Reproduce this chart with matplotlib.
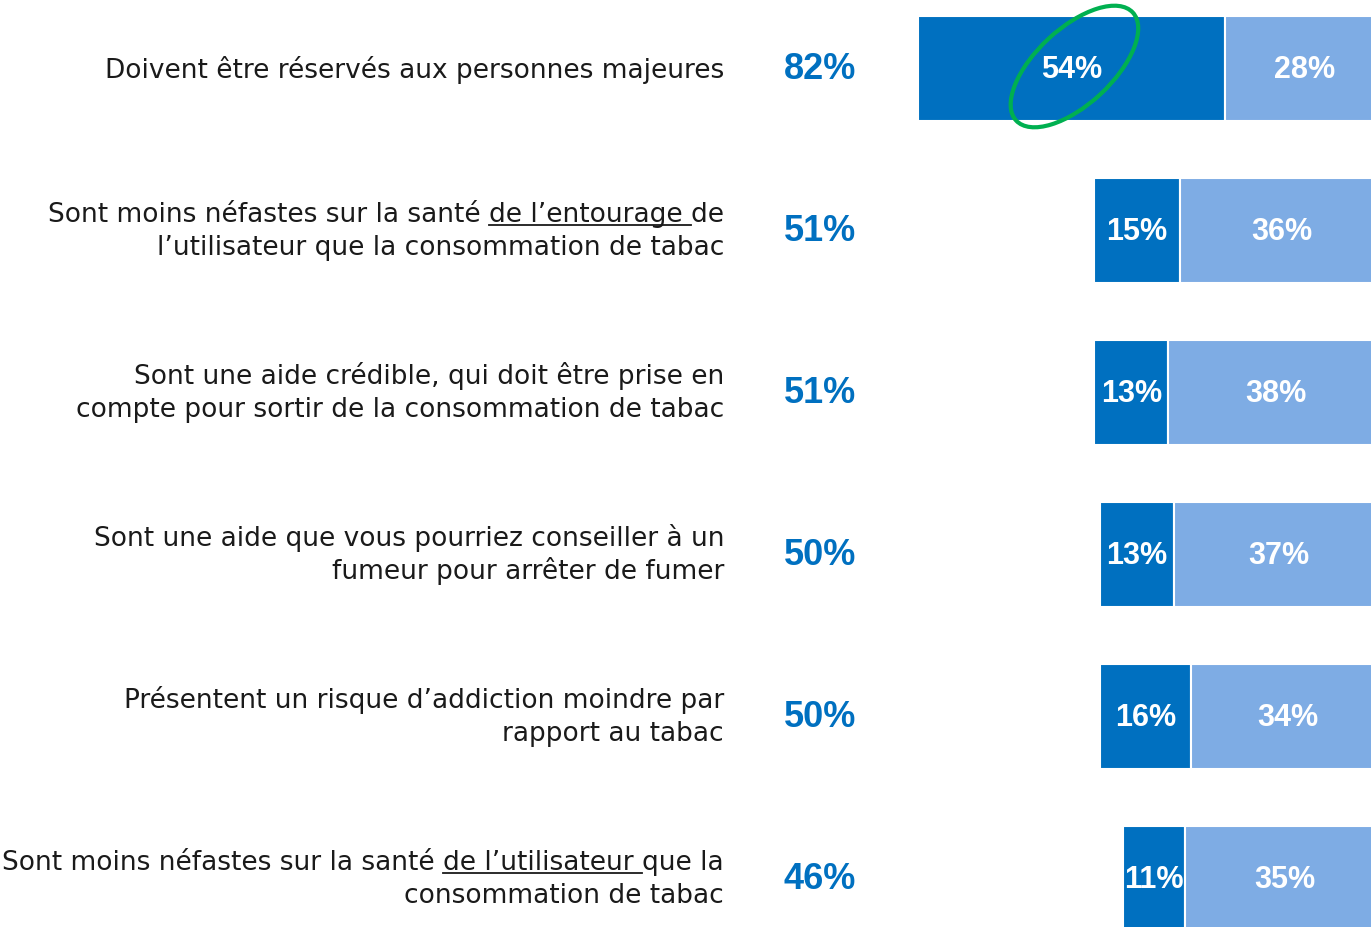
import matplotlib.pyplot as plt
from matplotlib import font_manager as fm
from matplotlib.patches import Ellipse
from matplotlib.lines import Line2D
from matplotlib.transforms import ScaledTranslation, blended_transform_factory

# data
labels = [
    ["Doivent être réservés aux personnes majeures"],
    ["Sont moins néfastes sur la santé de l’entourage de",
     "l’utilisateur que la consommation de tabac"],
    ["Sont une aide crédible, qui doit être prise en",
     "compte pour sortir de la consommation de tabac"],
    ["Sont une aide que vous pourriez conseiller à un",
     "fumeur pour arrêter de fumer"],
    ["Présentent un risque d’addiction moindre par",
     "rapport au tabac"],
    ["Sont moins néfastes sur la santé de l’utilisateur que la",
     "consommation de tabac"],
]
# underlined words in the first line: (from here to end, text after underline)
underlined = {1: ("de l’entourage de", "de"),
              5: ("de l’utilisateur que la", "que la")}
totals = [82, 51, 51, 50, 50, 46]
tout_a_fait = [54, 15, 13, 13, 16, 11]
plutot = [28, 36, 38, 37, 34, 35]

DARK = '#0070C0'
LIGHT = '#7EACE4'
LABEL_FONT = 'DejaVu Sans'
LABEL_SIZE = 19

# bold Arial-like font, not the Narrow cut
bold_files = [f.fname for f in fm.fontManager.ttflist
              if f.name == 'Liberation Sans' and f.weight in (700, 'bold')
              and 'Narrow' not in f.fname and f.style == 'normal']
if bold_files:
    def num_font(size):
        return fm.FontProperties(fname=bold_files[0], size=size)
else:
    def num_font(size):
        return fm.FontProperties(family='Roboto', weight='bold', size=size)

W, H = 1371, 928
fig = plt.figure(figsize=(W / 100, H / 100), dpi=100)
# axes runs a bit past the right edge: bars are cut off there
ax = fig.add_axes([0, 0, 1384 / W, 1])
ax.set_xlim(-1384 / 5.68, 0)
ax.set_ylim(5.299, -0.429)
ax.axis('off')

ypos = list(range(len(totals)))
lefts = [-t for t in totals]
mids = [l + d for l, d in zip(lefts, tout_a_fait)]
ax.barh(ypos, tout_a_fait, left=lefts, height=0.65, color=DARK,
        edgecolor='white', linewidth=1.5)
ax.barh(ypos, plutot, left=mids, height=0.65, color=LIGHT,
        edgecolor='white', linewidth=1.5)

for y, l, d, m, p in zip(ypos, lefts, tout_a_fait, mids, plutot):
    ax.text(l + d / 2, y, f'{d}%', ha='center', va='center', color='white',
            fontproperties=num_font(22))
    ax.text(m + p / 2, y, f'{p}%', ha='center', va='center', color='white',
            fontproperties=num_font(22))

tr = blended_transform_factory(fig.transFigure, ax.transData)
xr = 724 / W
for y, t in zip(ypos, totals):
    ax.text(820 / W, y, f'{t}%', transform=tr, ha='center', va='center',
            color=DARK, fontproperties=num_font(26))

line_texts = []
for y, lines in zip(ypos, labels):
    if len(lines) == 1:
        offs = [0.055]
    else:
        offs = [-0.06, 0.145]
    for i, (line, o) in enumerate(zip(lines, offs)):
        t = ax.text(xr, y + o, line, transform=tr, ha='right', va='baseline',
                    fontsize=LABEL_SIZE, family=LABEL_FONT, color='#1a1a1a')
        line_texts.append((y, i, o, t))

# underline parts of some labels
fig.canvas.draw()
renderer = fig.canvas.get_renderer()


def text_width(s):
    tmp = fig.text(0, 0, s, fontsize=LABEL_SIZE, family=LABEL_FONT)
    w = tmp.get_window_extent(renderer).width
    tmp.remove()
    return w


for y, i, o, t in line_texts:
    if i == 0 and y in underlined:
        start, rest = underlined[y]
        bb = t.get_window_extent(renderer)
        x1 = bb.x1 - text_width(start)
        x2 = bb.x1 - text_width(rest)
        base = fig.transFigure.inverted().transform(
            ax.transData.transform((0, y + o)))[1]
        yb = base - 4 / H
        fig.add_artist(Line2D([x1 / W, x2 / W], [yb, yb], color='#1a1a1a',
                              linewidth=1.3, transform=fig.transFigure))

# green ellipse round the 54%
off = fig.dpi_scale_trans + ScaledTranslation(lefts[0] + tout_a_fait[0] / 2 + 0.5,
                                              0, ax.transData)
ell = Ellipse((0, 0.02), 1.59, 0.76, angle=42.8, fill=False, edgecolor='#00B050',
              linewidth=3, transform=off)
ax.add_artist(ell)

fig.savefig('out.png', dpi=100)
